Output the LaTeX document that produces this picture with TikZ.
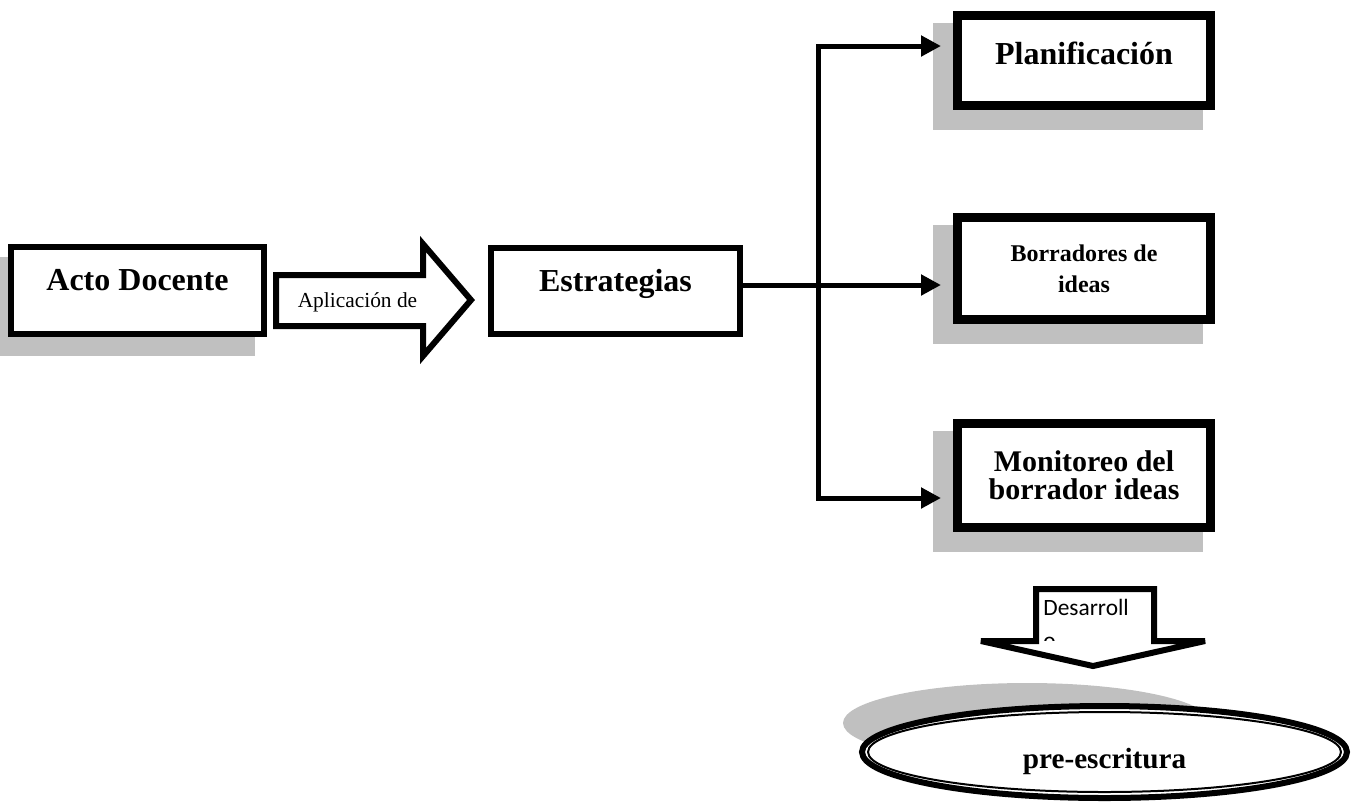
\documentclass[tikz,border=0pt]{standalone}
\usepackage{fontspec}
\setmainfont{Liberation Serif}
\newfontfamily\calibrifont{Carlito}
\usepackage{xcolor}
\usepackage{tikz}
\usetikzlibrary{shapes.geometric, arrows.meta, positioning, calc, backgrounds}
\definecolor{shadowgray}{RGB}{192,192,192}
\tikzset{
  sbox/.style={rectangle, draw=black, line width=3pt, fill=white, inner sep=0pt,
    font=\fontsize{16}{19}\selectfont\bfseries, text height=11pt, text depth=11pt},
  dbox/.style={rectangle, draw=black, line width=4pt, fill=white, inner sep=0pt,
    align=center, minimum width=127pt},
  inline/.style={draw=black, line width=1pt},
  shade/.style={fill=shadowgray},
  link/.style={line width=2.5pt, -{Triangle[length=10pt, width=10pt]}, shorten >=6pt},
  blockarr/.style={draw=black, fill=white, line width=3pt, miter limit=3},
}

\begin{document}
\begin{tikzpicture}[x=0.5pt, y=-0.5pt]
\useasboundingbox (0,0) rectangle (1356,805);

% boxes
\node[sbox, minimum width=126.5pt, minimum height=43.5pt] (acto) at (137.5,290.5) {Acto Docente};
\node[sbox, minimum width=124.5pt, minimum height=43pt] (estr) at (615.5,291) {Estrategias};
\node[dbox, minimum height=45.5pt, font=\fontsize{16}{19}\selectfont\bfseries,
  text height=11pt, text depth=7.5pt] (plan) at (1084,60.5) {Planificación};
\node[dbox, minimum height=51.5pt, font=\fontsize{12}{15.5}\selectfont\bfseries] (borr) at (1084,268.5) {Borradores de\\ideas};
\node[dbox, minimum height=52.5pt, font=\fontsize{15}{14}\selectfont\bfseries] (mon) at (1084,475.5) {Monitoreo del\\borrador ideas};
\node[ellipse, draw=black, line width=3pt, fill=white, inner sep=0pt,
  minimum width=242.5pt, minimum height=46pt, font=\fontsize{14.6}{17}\selectfont\bfseries,
  text height=16pt, text depth=0pt] (pre) at (1104.5,752) {pre-escritura};

\foreach \n in {plan,borr,mon}
  \draw[inline] ([shift={(8,8)}]\n.north west) rectangle ([shift={(-8,-8)}]\n.south east);
\draw[inline] (pre.center) ellipse [x radius=118.25pt, y radius=20pt];

% shadows
\begin{scope}[on background layer]
  \fill[shade] ([shift={(-18,13)}]acto.north west) rectangle ([shift={(-12,19)}]acto.south east);
  \foreach \n in {plan,borr,mon}
    \fill[shade] ([shift={(-20,12)}]\n.north west) rectangle ([shift={(-12,20)}]\n.south east);
  \fill[shade] ([shift={(-77.5,-29)}]pre.center) ellipse [x radius=92pt, y radius=20pt];
\end{scope}

% block arrows
\draw[blockarr] (276,275) -- (423,275) -- (423,244) -- (471,300) -- (423,356) -- (423,326) -- (276,326) -- cycle;
\node[font=\fontsize{10.7}{13}\selectfont, anchor=base] (apl) at (357.5,307) {Aplicación de};

\draw[blockarr] (1036,589) -- (1154,589) -- (1154,641) -- (1205,641) -- (1093,666) -- (981,641) -- (1036,641) -- cycle;
\begin{scope}
  \clip (1039,592) rectangle (1151,640);
  \node[font=\calibrifont\fontsize{11.7}{16.5}\selectfont, align=left, inner sep=0pt,
    anchor=north west] (des) at (1043,598.5) {Desarroll\\o};
\end{scope}

% connectors
\coordinate (split) at (818,285);
\coordinate (top) at (818,46);
\coordinate (bot) at (818,498);
\draw[link] (estr.east |- split) -- (borr.west |- split);
\draw[link, {Triangle[length=10pt, width=10pt]}-{Triangle[length=10pt, width=10pt]}, shorten <=6pt]
  (plan.west |- top) -- (top) -- (bot) -- (mon.west |- bot);
\end{tikzpicture}
\end{document}
